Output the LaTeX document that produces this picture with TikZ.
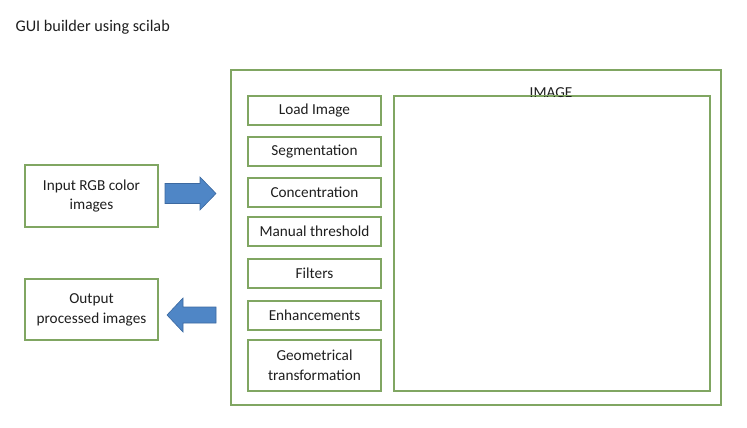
\documentclass[tikz,border=0pt]{standalone}
\usepackage{fontspec}
\setmainfont{Carlito}
\definecolor{gborder}{RGB}{128,166,98}
\definecolor{afill}{RGB}{79,134,198}
\definecolor{aborder}{RGB}{60,105,160}
\definecolor{tcol}{RGB}{30,30,30}
\tikzset{
  box/.style={draw=gborder, line width=1.3bp, align=center, text=tcol, font=\fontsize{15.3}{20}\selectfont, inner sep=0pt},
  btn/.style={box, minimum width=133bp, minimum height=29bp},
  bigarrow/.style={fill=afill, draw=aborder, line width=0.6bp}
}
\begin{document}
\begin{tikzpicture}[x=1bp,y=-1bp]
\useasboundingbox (0,0) rectangle (747,427);
\node[anchor=west, text=tcol, font=\fontsize{16.3}{18}\selectfont] (title) at (12,27) {GUI builder using scilab};
\node[box, minimum width=490bp, minimum height=335bp] (outer) at (476,237.5) {};
\node[box, minimum width=316bp, minimum height=295bp] (img) at (552,243.5) {};
\node[text=tcol, font=\fontsize{15.3}{17}\selectfont, anchor=base] (imglabel) at (551,97) {IMAGE};
\draw[gborder, line width=1.3bp] (img.north west) -- (img.north east);
\node[btn] (load) at (314.5,110.5) {Load Image};
\node[btn] (seg) at (314.5,151.5) {Segmentation};
\node[btn] (conc) at (314.5,192.5) {Concentration};
\node[btn] (man) at (314.5,231.5) {Manual threshold};
\node[btn] (filt) at (314.5,273.5) {Filters};
\node[btn] (enh) at (314.5,315.5) {Enhancements};
\node[btn, minimum height=51bp] (geo) at (314.5,365.5) {Geometrical\\transformation};
\node[box, minimum width=133bp, minimum height=62bp] (in) at (91.5,196) {Input RGB color\\images};
\node[box, minimum width=133bp, minimum height=61bp] (out) at (91.5,309.5) {Output\\processed images};
% right arrow
\draw[bigarrow] (165,183.5) -- (200,183.5) -- (200,177) -- (216,193.5) -- (200,210) -- (200,203.5) -- (165,203.5) -- cycle;
% left arrow
\draw[bigarrow] (216,307) -- (183,307) -- (183,298) -- (167,315) -- (183,332) -- (183,323) -- (216,323) -- cycle;
\end{tikzpicture}
\end{document}
